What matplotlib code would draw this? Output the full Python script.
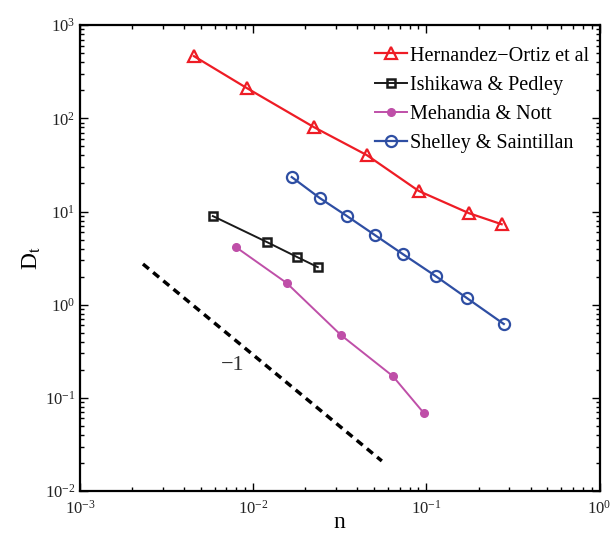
import matplotlib
matplotlib.use("Agg")
import matplotlib.pyplot as plt

plt.rcParams["font.family"] = ["Liberation Serif", "DejaVu Serif"]
plt.rcParams["mathtext.fontset"] = "stix"

# ── data ─────────────────────────────────────────────────────────────────────
hern_n = [4.55e-3, 9.2e-3, 0.0224, 0.0453, 0.0904, 0.176, 0.272]
hern_d = [465, 211, 80.5, 40.3, 16.6, 9.6, 7.3]

ishi_n = [5.85e-3, 0.0120, 0.0179, 0.0236]
ishi_d = [8.93, 4.70, 3.25, 2.53]

meh_n = [7.94e-3, 0.0156, 0.0321, 0.064, 0.0966]
meh_d = [4.15, 1.71, 0.472, 0.171, 0.0687]

shel_n = [0.0167, 0.0243, 0.0348, 0.0504, 0.0731, 0.113, 0.171, 0.280]
shel_d = [23.4, 13.9, 8.93, 5.59, 3.49, 2.03, 1.18, 0.62]

slope_n = [2.31e-3, 0.0553]
slope_d = [2.73, 0.021]

RED = "#ee1c25"
BLACK = "#1a1a1a"
MAGENTA = "#bf4fa8"
BLUE = "#2e4ea3"

fig = plt.figure(figsize=(6.12, 5.36), dpi=100)
ax = fig.add_axes([0.1307, 0.084, 0.849, 0.869])

ax.plot(hern_n, hern_d, color=RED, lw=1.6, marker="^", ms=8, mfc="none",
        mew=1.6, label="Hernandez\u2212Ortiz et al")
ax.plot(ishi_n, ishi_d, color=BLACK, lw=1.4, marker="s", ms=5.5, mfc="none",
        mew=1.8, label="Ishikawa & Pedley")
ax.plot(meh_n, meh_d, color=MAGENTA, lw=1.4, marker="o", ms=5.5,
        mfc=MAGENTA, mec=MAGENTA, label="Mehandia & Nott")
ax.plot(shel_n, shel_d, color=BLUE, lw=1.6, marker="o", ms=8, mfc="none",
        mew=1.6, label="Shelley & Saintillan")
ax.plot(slope_n, slope_d, color="black", lw=2.5, ls=(0, (2.2, 1.6)))
ax.text(7.64e-3, 0.225, "\u22121", fontsize=16, ha="center", va="center",
        color="#333333")

ax.set_xscale("log")
ax.set_yscale("log")
ax.set_xlim(1e-3, 1e0)
ax.set_ylim(1e-2, 1e3)

ax.tick_params(which="both", direction="in", top=True, right=True,
               labelsize=12, width=1.0, labelcolor="#222222")
ax.tick_params(which="major", length=6)
ax.tick_params(which="minor", length=3)
ax.tick_params(axis="x", which="major", pad=6)
for s in ax.spines.values():
    s.set_linewidth(1.6)

ax.set_xlabel("n", fontsize=17, labelpad=-4)
ax.set_ylabel("D$_\\mathrm{t}$", fontsize=17, labelpad=1)

leg = ax.legend(loc="upper right", bbox_to_anchor=(1.0, 0.976),
                fontsize=14.5, frameon=False, handlelength=1.6,
                handletextpad=0.15, labelspacing=0.5, borderaxespad=0.1,
                borderpad=0.4)

fig.savefig("out.png", dpi=100)
